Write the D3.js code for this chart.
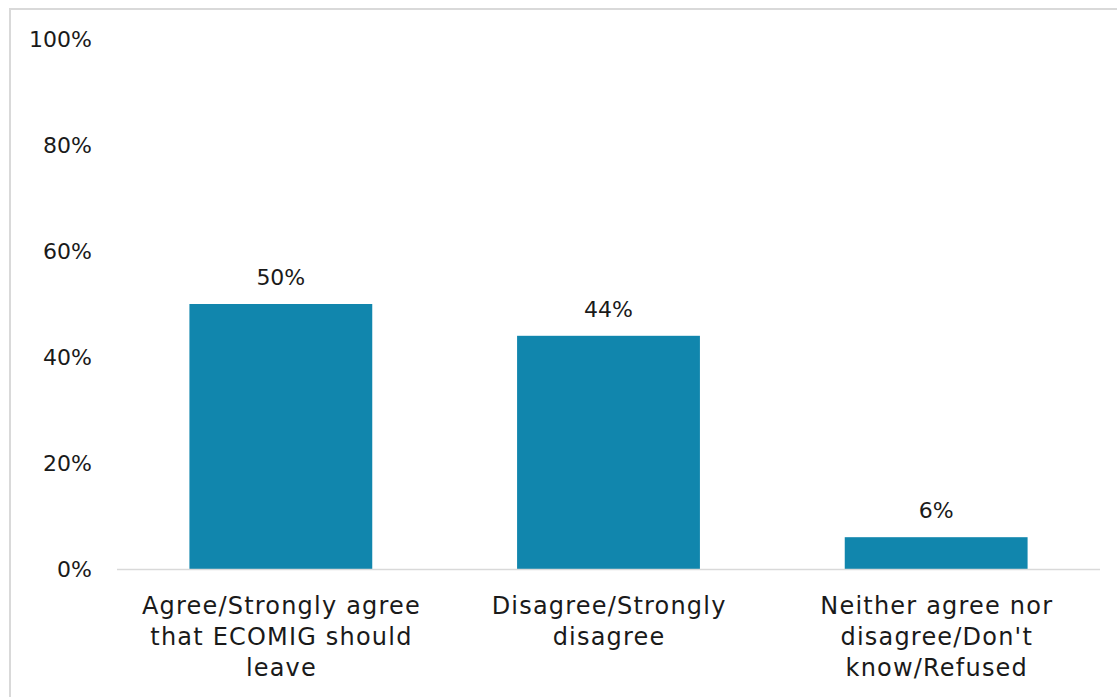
<!DOCTYPE html>
<html><head><meta charset="utf-8">
<script src="https://cdn.jsdelivr.net/npm/d3@7"></script>
<style>
html,body{margin:0;padding:0;background:#fff;}
svg{display:block;}
text{font-family:"DejaVu Sans",sans-serif;fill:#1a1a1a;}
</style></head>
<body>
<svg id="chart" width="1117" height="697"></svg>
<script>
const categories = [
  ["Agree/Strongly agree", "that ECOMIG should", "leave"],
  ["Disagree/Strongly", "disagree"],
  ["Neither agree nor", "disagree/Don't", "know/Refused"]
];
const values = [50, 44, 6];
const valueLabels = ["50%", "44%", "6%"];
const yTicks = [0, 20, 40, 60, 80, 100];
const yTickLabels = ["0%", "20%", "40%", "60%", "80%", "100%"];

const svg = d3.select("#chart");
const W = 1117, H = 697;
const plot = {left: 117, right: 1100, top: 39, bottom: 569};

svg.append("rect").attr("x", 10).attr("y", 9).attr("width", W + 10).attr("height", H + 10)
  .attr("fill", "#fff").attr("stroke", "#d9d9d9").attr("stroke-width", 2);

const x = d3.scaleBand().domain(d3.range(values.length))
  .range([plot.left, plot.right]).paddingInner(0.442).paddingOuter(0.221);
const y = d3.scaleLinear().domain([0, 100]).range([plot.bottom, plot.top]);

const fs = 22;

// y labels
const yAxis = d3.axisLeft(y).tickValues(yTicks).tickSize(0).tickPadding(0)
  .tickFormat((d, i) => yTickLabels[i]);
const gy = svg.append("g").attr("transform", `translate(92,0)`).call(yAxis);
gy.select(".domain").remove();
gy.selectAll("text").attr("font-size", fs).attr("font-family", "DejaVu Sans").attr("fill", "#1a1a1a");

// bars
svg.append("g").selectAll("rect").data(values).join("rect")
  .attr("x", (d, i) => x(i)).attr("width", x.bandwidth())
  .attr("y", d => y(d)).attr("height", d => y(0) - y(d))
  .attr("fill", "#1186ad");

// baseline
svg.append("line").attr("x1", plot.left).attr("x2", plot.right)
  .attr("y1", y(0) + 0.5).attr("y2", y(0) + 0.5).attr("stroke", "#d9d9d9").attr("stroke-width", 1.5);

// value labels
svg.append("g").selectAll("text").data(values).join("text")
  .attr("x", (d, i) => x(i) + x.bandwidth() / 2)
  .attr("y", d => y(d) - 19)
  .attr("text-anchor", "middle").attr("font-size", fs)
  .text((d, i) => valueLabels[i]);

// category labels
const cg = svg.append("g").selectAll("text").data(categories).join("text")
  .attr("text-anchor", "middle").attr("font-size", 24).attr("letter-spacing", 1.2);
cg.each(function(lines, i) {
  d3.select(this).selectAll("tspan").data(lines).join("tspan")
    .attr("x", x(i) + x.bandwidth() / 2 + 0.6)
    .attr("y", (l, j) => 614 + j * 31)
    .text(l => l);
});
</script>
</body></html>
